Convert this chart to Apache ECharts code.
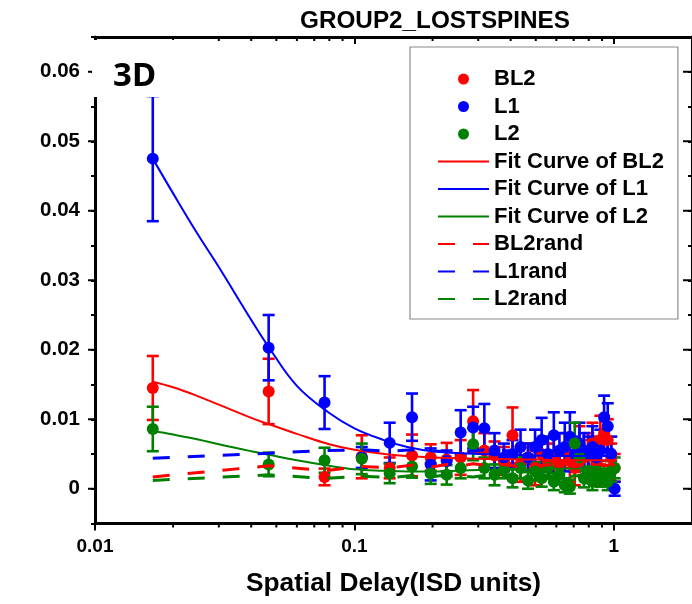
<!DOCTYPE html>
<html>
<head>
<meta charset="utf-8">
<script src="https://cdn.jsdelivr.net/npm/echarts@6/dist/echarts.min.js"></script>
<style>
  html, body { margin: 0; padding: 0; background: #fff; }
  #chart { width: 692px; height: 604px; }
</style>
</head>
<body>
<div id="chart"></div>
<script>
// Spatial delay positions (ISD units)
const delays = [0.0167, 0.0467, 0.0767, 0.1067, 0.1367, 0.1667, 0.1967, 0.2267, 0.2567, 0.2867,
  0.3167, 0.3467, 0.3767, 0.4067, 0.4367, 0.4667, 0.4967, 0.5267, 0.5567, 0.5867,
  0.6167, 0.6467, 0.6767, 0.7067, 0.7367, 0.7667, 0.7967, 0.8267, 0.8567, 0.8867,
  0.9167, 0.9467, 0.9767, 1.0067];

// Measured means and errors
const bl2Mean = [0.0145, 0.0140, 0.0017, 0.0046, 0.0030, 0.0048, 0.0045, 0.0042, 0.0045, 0.0097,
  0.0055, 0.0048, 0.0040, 0.0077, 0.0035, 0.0045, 0.0030, 0.0050, 0.0040, 0.0045,
  0.0035, 0.0055, 0.0040, 0.0030, 0.0060, 0.0045, 0.0050, 0.0065, 0.0040, 0.0070,
  0.0080, 0.0070, 0.0045, 0.0030];
const bl2Err = [0.0046, 0.0047, 0.0012, 0.0031, 0.0015, 0.0030, 0.0019, 0.0024, 0.0025, 0.0045,
  0.0025, 0.0020, 0.0020, 0.0040, 0.0025, 0.0020, 0.0025, 0.0020, 0.0025, 0.0030,
  0.0020, 0.0025, 0.0030, 0.0025, 0.0030, 0.0025, 0.0030, 0.0030, 0.0035, 0.0035,
  0.0025, 0.0030, 0.0020, 0.0020];

const l1Mean = [0.0475, 0.0203, 0.0124, 0.0045, 0.0066, 0.0103, 0.0035, 0.0040, 0.0081, 0.0088,
  0.0087, 0.0055, 0.0045, 0.0050, 0.0060, 0.0045, 0.0060, 0.0070, 0.0050, 0.0077,
  0.0055, 0.0060, 0.0075, 0.0050, 0.0065, 0.0055, 0.0050, 0.0060, 0.0045, 0.0055,
  0.0103, 0.0090, 0.0050, 0.0000];
const l1Err = [0.0090, 0.0047, 0.0038, 0.0015, 0.0029, 0.0034, 0.0023, 0.0015, 0.0032, 0.0030,
  0.0035, 0.0025, 0.0020, 0.0020, 0.0025, 0.0020, 0.0025, 0.0032, 0.0025, 0.0033,
  0.0025, 0.0035, 0.0035, 0.0025, 0.0030, 0.0025, 0.0025, 0.0030, 0.0025, 0.0030,
  0.0031, 0.0033, 0.0025, 0.0010];

const l2Mean = [0.0086, 0.0035, 0.0041, 0.0043, 0.0022, 0.0032, 0.0022, 0.0020, 0.0030, 0.0064,
  0.0030, 0.0020, 0.0028, 0.0015, 0.0030, 0.0012, 0.0025, 0.0015, 0.0030, 0.0010,
  0.0020, 0.0005, 0.0003, 0.0065, 0.0045, 0.0015, 0.0020, 0.0010, 0.0025, 0.0015,
  0.0020, 0.0010, 0.0025, 0.0030];
const l2Err = [0.0032, 0.0017, 0.0018, 0.0022, 0.0014, 0.0016, 0.0015, 0.0014, 0.0015, 0.0023,
  0.0015, 0.0015, 0.0013, 0.0013, 0.0015, 0.0012, 0.0013, 0.0012, 0.0015, 0.0012,
  0.0013, 0.0010, 0.0010, 0.0030, 0.0020, 0.0013, 0.0012, 0.0012, 0.0013, 0.0012,
  0.0013, 0.0012, 0.0015, 0.0015];

// Shuffled-control curves
const bl2Rand = [0.0017, 0.0033, 0.0026, 0.0032, 0.0030, 0.0034, 0.0031, 0.0035, 0.0033, 0.0036,
  0.0034, 0.0032, 0.0035, 0.0033, 0.0031, 0.0034, 0.0036, 0.0033, 0.0035, 0.0032,
  0.0034, 0.0033, 0.0035, 0.0031, 0.0034, 0.0036, 0.0033, 0.0034, 0.0032, 0.0035,
  0.0033, 0.0034, 0.0036, 0.0033];
const l1Rand = [0.0044, 0.0051, 0.0055, 0.0056, 0.0054, 0.0056, 0.0055, 0.0053, 0.0055, 0.0054,
  0.0056, 0.0053, 0.0055, 0.0054, 0.0052, 0.0055, 0.0054, 0.0056, 0.0053, 0.0055,
  0.0054, 0.0052, 0.0055, 0.0054, 0.0053, 0.0055, 0.0054, 0.0056, 0.0053, 0.0054,
  0.0055, 0.0053, 0.0054, 0.0055];
const l2Rand = [0.0012, 0.0020, 0.0015, 0.0018, 0.0016, 0.0019, 0.0017, 0.0020, 0.0018, 0.0017,
  0.0019, 0.0016, 0.0018, 0.0020, 0.0017, 0.0019, 0.0018, 0.0016, 0.0019, 0.0017,
  0.0018, 0.0020, 0.0017, 0.0019, 0.0018, 0.0016, 0.0019, 0.0018, 0.0017, 0.0019,
  0.0018, 0.0020, 0.0017, 0.0018];

// Fitted curves
const fitX = [0.0167, 0.02, 0.025, 0.03, 0.04, 0.0467, 0.06, 0.08, 0.1, 0.13, 0.16, 0.2, 0.3, 0.5, 0.7, 1.0067];
const bl2Fit = [0.0154, 0.0146, 0.0133, 0.0121, 0.0102, 0.0093, 0.0079, 0.0064, 0.0056, 0.0050, 0.0047, 0.0045, 0.0043, 0.0042, 0.0041, 0.0041];
const l1Fit = [0.0475, 0.0425, 0.0365, 0.0319, 0.0243, 0.0204, 0.0148, 0.0109, 0.0087, 0.0070, 0.0060, 0.0054, 0.0050, 0.0048, 0.0047, 0.0047];
const l2Fit = [0.0083, 0.0078, 0.0071, 0.0064, 0.0054, 0.0049, 0.0041, 0.0033, 0.0028, 0.0026, 0.0025, 0.0025, 0.0027, 0.0028, 0.0029, 0.0029];

// Axis ticks
const xMinorTicks = [0.02, 0.03, 0.04, 0.05, 0.06, 0.07, 0.08, 0.09, 0.2, 0.3, 0.4, 0.5, 0.6, 0.7, 0.8, 0.9, 2];
const yMajorTicks = [0, 0.01, 0.02, 0.03, 0.04, 0.05, 0.06];

const RED = '#ff0000', BLUE = '#0000ff', GREEN = '#008000';
const FONT = '"Liberation Sans", Arial, sans-serif';

const zip = (xs, ys) => xs.map((x, i) => [x, ys[i]]);
const zip3 = (xs, ys, es) => xs.map((x, i) => [x, ys[i], es[i]]);

function errorBars(name, color, means, errs) {
  return {
    type: 'custom', name: name + ' err', silent: true, clip: false, z: 3,
    data: zip3(delays, means, errs), encode: { x: 0, y: 1 },
    renderItem: (params, api) => {
      const x = api.value(0), y = api.value(1), e = api.value(2);
      const top = api.coord([x, y + e]);
      const bot = api.coord([x, y - e]);
      const hw = 6;
      const st = { stroke: color, lineWidth: 2.6 };
      return {
        type: 'group', children: [
          { type: 'line', shape: { x1: top[0], y1: top[1], x2: bot[0], y2: bot[1] }, style: st },
          { type: 'line', shape: { x1: top[0] - hw, y1: top[1], x2: top[0] + hw, y2: top[1] }, style: st },
          { type: 'line', shape: { x1: bot[0] - hw, y1: bot[1], x2: bot[0] + hw, y2: bot[1] }, style: st }
        ]
      };
    }
  };
}

function points(name, color, means) {
  return {
    type: 'scatter', name, data: zip(delays, means), symbol: 'circle', symbolSize: 12,
    itemStyle: { color, opacity: 1 }, z: 4, silent: true
  };
}

function fitLine(name, color, ys) {
  return {
    type: 'line', name, data: zip(fitX, ys), smooth: 0.4, symbol: 'none', silent: true, z: 5,
    lineStyle: { color, width: 2 }, itemStyle: { color }
  };
}

function randLine(name, color, ys) {
  return {
    type: 'line', name, data: zip(delays, ys), symbol: 'none', silent: true, z: 5,
    lineStyle: { color, width: 3, type: [17, 18] }, itemStyle: { color }
  };
}

// legend entry for a plain line: hide the marker that the line icon carries
const lineEntry = name => ({ name, itemStyle: { opacity: 0 } });

const chart = echarts.init(document.getElementById('chart'), null, { renderer: 'canvas' });

const axisLine = { show: true, onZero: false, lineStyle: { color: '#000', width: 3 } };
const labelStyle = { color: '#000', fontFamily: FONT, fontWeight: 'bold', fontSize: 20.5 };

chart.setOption({
  animation: false,
  backgroundColor: '#fff',
  title: [
    {
      text: 'GROUP2_LOSTSPINES', left: 430, top: 4, textAlign: 'center',
      textStyle: { color: '#000', fontFamily: FONT, fontWeight: 'bold', fontSize: 24.3 }
    },
    {
      text: '3D', left: 92, top: 40, padding: [20, 35, 3, 21], backgroundColor: '#fff',
      textStyle: { color: '#000', fontFamily: '"Noto Sans", sans-serif', fontWeight: 'bold', fontSize: 33, lineHeight: 34 }
    }
  ],
  legend: {
    orient: 'vertical', left: 410, top: 47,
    padding: [21, 14, 9, 27],
    itemWidth: 51, itemHeight: 11, itemGap: 5.5,
    backgroundColor: '#fff', borderColor: '#8a8a8a', borderWidth: 1.2,
    textStyle: { color: '#000', fontFamily: FONT, fontWeight: 'bold', fontSize: 22, lineHeight: 21 },
    data: [
      { name: 'BL2', icon: 'circle' },
      { name: 'L1', icon: 'circle' },
      { name: 'L2', icon: 'circle' },
      lineEntry('Fit Curve of BL2'), lineEntry('Fit Curve of L1'), lineEntry('Fit Curve of L2'),
      lineEntry('BL2rand'), lineEntry('L1rand'), lineEntry('L2rand')
    ]
  },
  grid: { left: 95, top: 37, width: 599.4, height: 486.5, containLabel: false },
  xAxis: [
    {
      type: 'log', logBase: 10, min: 0.01, max: 2, position: 'bottom',
      name: 'Spatial Delay(ISD units)', nameLocation: 'middle', nameGap: 47,
      nameTextStyle: { color: '#000', fontFamily: FONT, fontWeight: 'bold', fontSize: 26.3 },
      axisLine, splitLine: { show: false }, minorTick: { show: false },
      axisTick: { show: true, inside: false, length: 7, lineStyle: { color: '#000', width: 2 } },
      axisLabel: Object.assign({}, labelStyle, {
        fontSize: 19, margin: 14, showMaxLabel: false,
        formatter: v => {
          const r = Math.log10(v);
          return Math.abs(r - Math.round(r)) < 1e-6 ? String(+v.toPrecision(1)) : '';
        }
      })
    },
    {
      type: 'log', logBase: 10, min: 0.01, max: 2, position: 'top',
      axisLine, splitLine: { show: false }, axisLabel: { show: false },
      axisTick: { show: true, inside: true, length: 7, lineStyle: { color: '#000', width: 2 } }
    }
  ],
  yAxis: [
    {
      type: 'value', min: -0.005, max: 0.065, interval: 0.005, position: 'left',
      axisLine, splitLine: { show: false },
      axisTick: { show: true, inside: false, length: 4, lineStyle: { color: '#000', width: 2 } },
      axisLabel: Object.assign({}, labelStyle, {
        margin: 15, showMinLabel: true, showMaxLabel: true,
        formatter: v => {
          const k = v * 100;
          if (Math.abs(k - Math.round(k)) > 1e-6 || v < -1e-9 || v > 0.0601) return '';
          return Math.abs(v) < 1e-9 ? '0' : v.toFixed(2);
        }
      })
    },
    {
      type: 'value', min: -0.005, max: 0.065, interval: 0.005, position: 'right',
      axisLine, splitLine: { show: false }, axisLabel: { show: false },
      axisTick: { show: true, inside: true, length: 4, lineStyle: { color: '#000', width: 2 } }
    }
  ],
  series: [
    // minor ticks on the log axes (2..9 within each decade)
    {
      type: 'custom', name: 'xminor', silent: true, clip: false, z: 1,
      data: xMinorTicks.map(v => [v, 0]), encode: { x: 0, y: 1 },
      renderItem: (params, api) => {
        const cs = params.coordSys;
        const px = api.coord([api.value(0), 0])[0];
        if (px > cs.x + cs.width - 1) return null;
        const b = cs.y + cs.height, t = cs.y;
        const st = { stroke: '#000', lineWidth: 2 };
        return {
          type: 'group', children: [
            { type: 'line', shape: { x1: px, y1: b, x2: px, y2: b + 4 }, style: st },
            { type: 'line', shape: { x1: px, y1: t, x2: px, y2: t + 4 }, style: st }
          ]
        };
      }
    },
    // longer major ticks on the value axes
    {
      type: 'custom', name: 'ymajor', silent: true, clip: false, z: 1,
      data: yMajorTicks.map(v => [0.1, v]), encode: { x: 0, y: 1 },
      renderItem: (params, api) => {
        const cs = params.coordSys;
        const py = api.coord([0.1, api.value(1)])[1];
        const l = cs.x, r = cs.x + cs.width;
        const st = { stroke: '#000', lineWidth: 2 };
        return {
          type: 'group', children: [
            { type: 'line', shape: { x1: l, y1: py, x2: l - 7, y2: py }, style: st },
            { type: 'line', shape: { x1: r, y1: py, x2: r - 9, y2: py }, style: st }
          ]
        };
      }
    },
    errorBars('BL2', RED, bl2Mean, bl2Err),
    points('BL2', RED, bl2Mean),
    errorBars('L1', BLUE, l1Mean, l1Err),
    points('L1', BLUE, l1Mean),
    errorBars('L2', GREEN, l2Mean, l2Err),
    points('L2', GREEN, l2Mean),
    fitLine('Fit Curve of BL2', RED, bl2Fit),
    fitLine('Fit Curve of L1', BLUE, l1Fit),
    fitLine('Fit Curve of L2', GREEN, l2Fit),
    randLine('BL2rand', RED, bl2Rand),
    randLine('L1rand', BLUE, l1Rand),
    randLine('L2rand', GREEN, l2Rand)
  ]
});
</script>
</body>
</html>
